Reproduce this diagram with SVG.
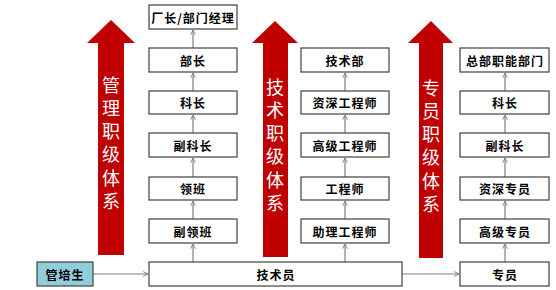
<svg xmlns="http://www.w3.org/2000/svg" width="556" height="290" viewBox="0 0 556 290">
<defs>
<style>
.box{fill:#fff;stroke:#404040;stroke-width:1.2}
.start{fill:#92CDDC;stroke:#404040;stroke-width:1.2}
.t{font-family:"Noto Sans CJK SC","Noto Sans",sans-serif;font-size:12px;font-weight:bold;fill:#000;text-anchor:middle;dominant-baseline:central;letter-spacing:1px}
.red{fill:#C00000}
.v{font-family:"Noto Sans CJK SC",sans-serif;font-size:18px;fill:#fff;writing-mode:vertical-rl;text-orientation:upright;letter-spacing:5.2px}
.c{stroke:#7f7f7f;stroke-width:1.2;fill:none;marker-end:url(#ah)}
</style>
<marker id="ah" viewBox="0 0 10 10" refX="9" refY="5" markerWidth="6" markerHeight="6" markerUnits="userSpaceOnUse" orient="auto">
<path d="M1,1 L9,5 L1,9" fill="none" stroke="#7f7f7f" stroke-width="1.6"/>
</marker>
</defs>
<rect width="556" height="290" fill="#fff"/>

<g id="arrow-mgmt">
<polygon class="red" points="111,20 135,43 124,43 124,255 98,255 98,43 87,43"/>
<text class="v" x="111" y="76">管理职级体系</text>
</g>
<g id="arrow-tech">
<polygon class="red" points="275,21 298,43 288,43 288,257 263,257 263,43 252,43"/>
<text class="v" x="275" y="78">技术职级体系</text>
</g>
<g id="arrow-spec">
<polygon class="red" points="431,21 453,43 443,43 443,258 419,258 419,43 408,43"/>
<text class="v" x="431" y="79">专员职级体系</text>
</g>

<g id="connectors">
<line class="c" x1="193" y1="48" x2="193" y2="30"/>
<line class="c" x1="193" y1="91" x2="193" y2="73"/>
<line class="c" x1="193" y1="133" x2="193" y2="115"/>
<line class="c" x1="193" y1="177" x2="193" y2="158"/>
<line class="c" x1="193" y1="219" x2="193" y2="201"/>
<line class="c" x1="193" y1="262" x2="193" y2="244"/>
<line class="c" x1="345" y1="91" x2="345" y2="73"/>
<line class="c" x1="345" y1="133" x2="345" y2="115"/>
<line class="c" x1="345" y1="177" x2="345" y2="158"/>
<line class="c" x1="345" y1="219" x2="345" y2="201"/>
<line class="c" x1="345" y1="262" x2="345" y2="244"/>
<line class="c" x1="505" y1="91" x2="505" y2="73"/>
<line class="c" x1="505" y1="133" x2="505" y2="115"/>
<line class="c" x1="505" y1="177" x2="505" y2="158"/>
<line class="c" x1="505" y1="219" x2="505" y2="201"/>
<line class="c" x1="505" y1="262" x2="505" y2="244"/>
<line class="c" x1="93" y1="274" x2="148" y2="274"/>
<line class="c" x1="402" y1="274" x2="459" y2="274"/>
</g>

<g id="n-changzhang"><rect class="box" x="149" y="5" width="88" height="24"/><text class="t" x="193" y="17">厂长/部门经理</text></g>
<g id="n-buzhang"><rect class="box" x="149" y="48" width="88" height="24"/><text class="t" x="193" y="60">部长</text></g>
<g id="n-kezhang1"><rect class="box" x="149" y="91" width="88" height="23"/><text class="t" x="193" y="102.5">科长</text></g>
<g id="n-fukezhang1"><rect class="box" x="149" y="133" width="88" height="24"/><text class="t" x="193" y="145">副科长</text></g>
<g id="n-lingban"><rect class="box" x="149" y="177" width="88" height="23"/><text class="t" x="193" y="188.5">领班</text></g>
<g id="n-fulingban"><rect class="box" x="149" y="219" width="88" height="24"/><text class="t" x="193" y="231">副领班</text></g>
<g id="n-jishuyuan"><rect class="box" x="149" y="262" width="253" height="24"/><text class="t" x="276" y="274">技术员</text></g>
<g id="n-guanpeisheng"><rect class="start" x="37" y="262" width="56" height="24"/><text class="t" x="65" y="274">管培生</text></g>

<g id="n-jishubu"><rect class="box" x="301" y="48" width="88" height="24"/><text class="t" x="345" y="60">技术部</text></g>
<g id="n-zishen-gcs"><rect class="box" x="301" y="91" width="88" height="23"/><text class="t" x="345" y="102.5">资深工程师</text></g>
<g id="n-gaoji-gcs"><rect class="box" x="301" y="133" width="88" height="24"/><text class="t" x="345" y="145">高级工程师</text></g>
<g id="n-gcs"><rect class="box" x="301" y="177" width="88" height="23"/><text class="t" x="345" y="188.5">工程师</text></g>
<g id="n-zhuli-gcs"><rect class="box" x="301" y="219" width="88" height="24"/><text class="t" x="345" y="231">助理工程师</text></g>

<g id="n-zongbu"><rect class="box" x="460" y="48" width="89" height="24"/><text class="t" x="505" y="60">总部职能部门</text></g>
<g id="n-kezhang2"><rect class="box" x="460" y="91" width="89" height="23"/><text class="t" x="505" y="102.5">科长</text></g>
<g id="n-fukezhang2"><rect class="box" x="460" y="133" width="89" height="24"/><text class="t" x="505" y="145">副科长</text></g>
<g id="n-zishen-zy"><rect class="box" x="460" y="177" width="89" height="23"/><text class="t" x="505" y="188.5">资深专员</text></g>
<g id="n-gaoji-zy"><rect class="box" x="460" y="219" width="89" height="24"/><text class="t" x="505" y="231">高级专员</text></g>
<g id="n-zhuanyuan"><rect class="box" x="460" y="262" width="89" height="24"/><text class="t" x="505" y="274">专员</text></g>
</svg>
